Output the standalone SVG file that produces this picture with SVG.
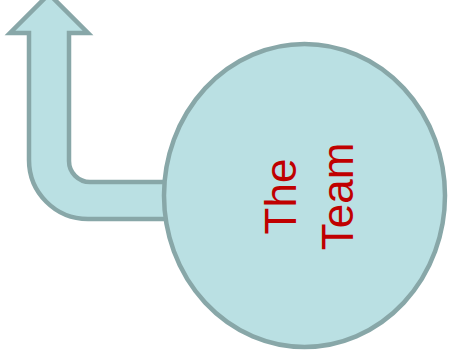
<svg xmlns="http://www.w3.org/2000/svg" width="449" height="363" viewBox="0 0 449 363">
<style>
.shape{fill:#BAE0E3;stroke:#88A7A8;stroke-width:4.5;stroke-linejoin:miter}
.lbl{font-family:"Liberation Sans",Arial,sans-serif;font-size:44px;fill:#C00000;text-anchor:middle}
</style>
<rect width="449" height="363" fill="#FFFFFF"/>
<g id="connectors">
<path class="shape" d="M 190,219 L 88,219 A 59 59 0 0 1 29,160 L 29,33 L 10,33 L 49,-6 L 88,33 L 69,33 L 69,161 A 21 21 0 0 0 90,182 L 190,182 Z"/>
</g>
<g id="team">
<ellipse class="shape" cx="304.5" cy="195.5" rx="140.5" ry="151.5"/>
<text class="lbl" transform="translate(295.5,196.5) rotate(-90)">The</text>
<text class="lbl" transform="translate(353,196.5) rotate(-90)">Team</text>
</g>
</svg>
